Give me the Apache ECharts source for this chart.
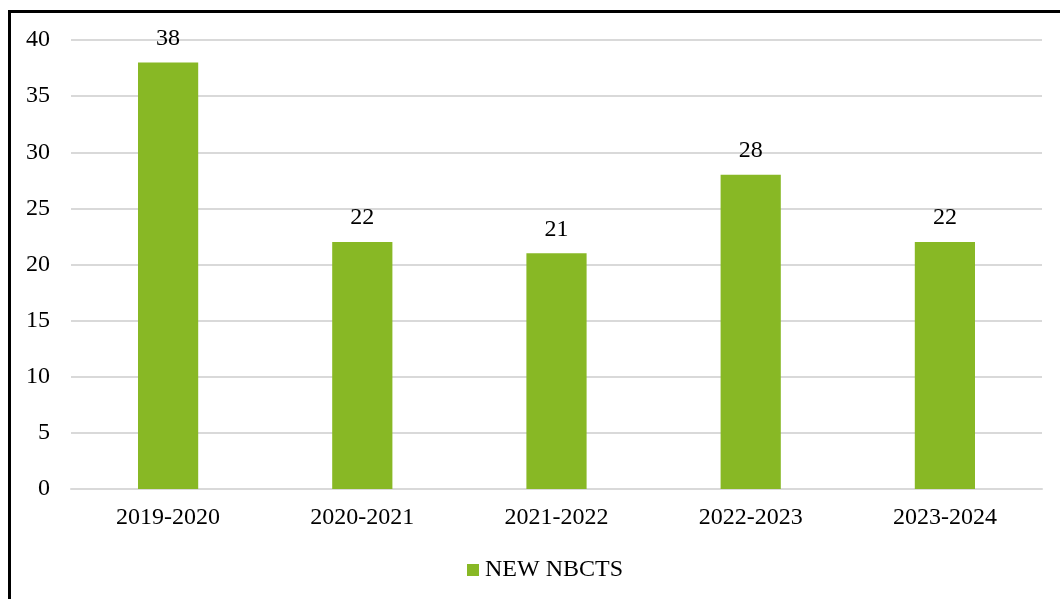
<!DOCTYPE html>
<html><head><meta charset="utf-8">
<script src="https://cdn.jsdelivr.net/npm/echarts@6/dist/echarts.min.js"></script>
<style>
html,body{margin:0;padding:0;background:#fff;overflow:hidden;}
#frame{position:absolute;left:8px;top:10px;width:1060px;height:620px;border:3px solid #000;box-sizing:border-box;}
#c{position:absolute;left:0;top:0;width:1060px;height:599px;}
</style></head>
<body>
<div id="frame"></div>
<div id="c"></div>
<script>
const categories = ['2019-2020','2020-2021','2021-2022','2022-2023','2023-2024'];
const newNbcts = [38,22,21,28,22];
const seriesName = 'NEW NBCTS';
const font = '"Liberation Serif", "DejaVu Serif", serif';
const chart = echarts.init(document.getElementById('c'));
chart.setOption({
  animation:false,
  grid:{left:71,right:18,top:40,bottom:110,containLabel:false},
  legend:{bottom:12,left:462,itemWidth:12,itemHeight:12,icon:'rect',itemGap:10,
    textStyle:{fontFamily:font,fontSize:24,color:'#000',padding:[0,0,0,1]},data:[seriesName]},
  xAxis:{type:'category',data:categories,
    axisLine:{lineStyle:{color:'#d9d9d9',width:2}},axisTick:{show:false},
    axisLabel:{fontFamily:font,fontSize:24,color:'#000',margin:17}},
  yAxis:{type:'value',min:0,max:40,interval:5,
    axisLine:{show:false},axisTick:{show:false},
    splitLine:{lineStyle:{color:'#d9d9d9',width:2}},
    axisLabel:{fontFamily:font,fontSize:24,color:'#000',margin:21}},
  series:[{name:seriesName,type:'bar',data:newNbcts,barWidth:'31%',
    itemStyle:{color:'#88B825'},
    label:{show:true,position:'top',distance:12,fontFamily:font,fontSize:24,color:'#000'}}]
});
</script>
</body></html>
